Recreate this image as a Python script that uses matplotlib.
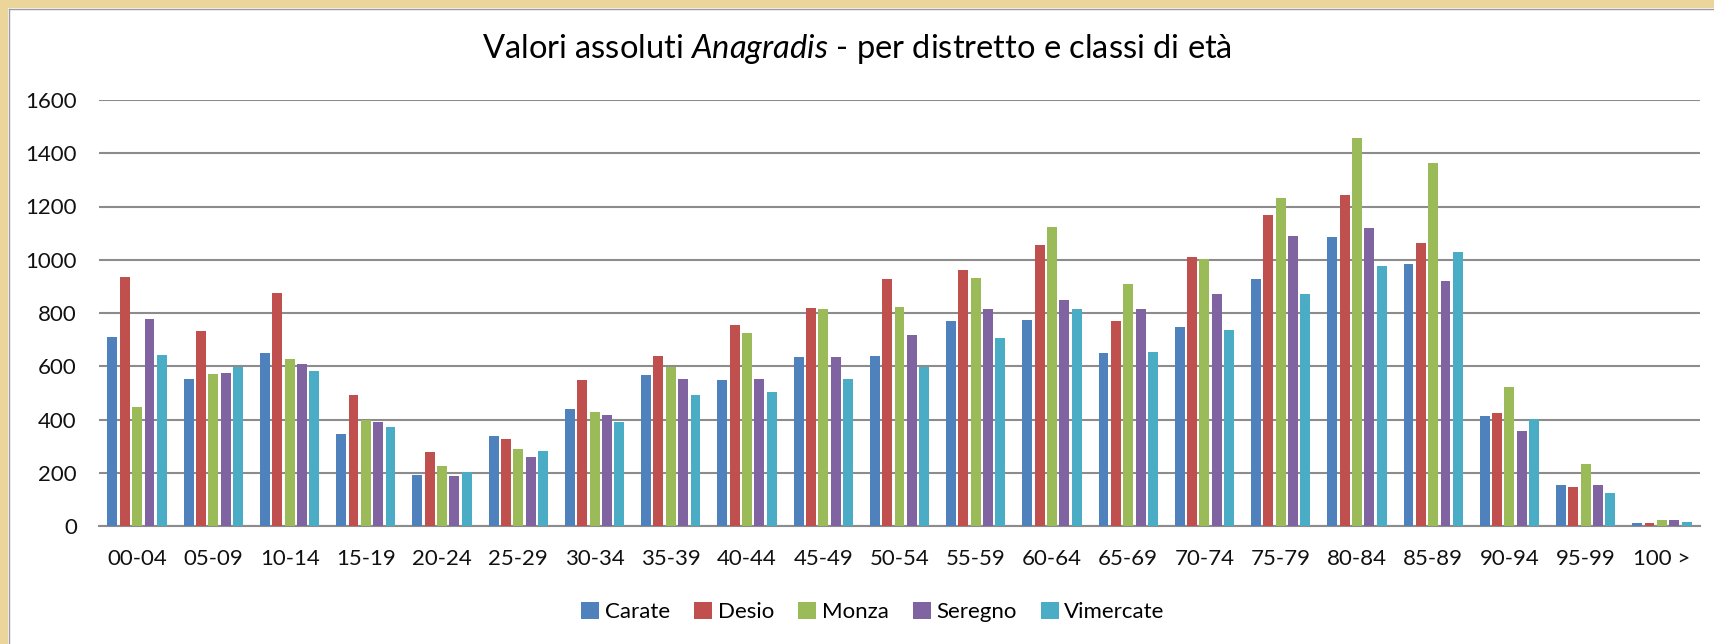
import numpy as np
import matplotlib
matplotlib.use("Agg")
import matplotlib.pyplot as plt
from matplotlib.patches import Rectangle
from matplotlib.lines import Line2D

plt.rcParams['font.family'] = ['Lato', 'DejaVu Sans']
plt.rcParams['mathtext.fontset'] = 'custom'
plt.rcParams['mathtext.rm'] = 'Lato'
plt.rcParams['mathtext.it'] = 'Lato:italic'

# classi di eta
classi = ['00-04', '05-09', '10-14', '15-19', '20-24', '25-29', '30-34',
          '35-39', '40-44', '45-49', '50-54', '55-59', '60-64', '65-69',
          '70-74', '75-79', '80-84', '85-89', '90-94', '95-99', '100 >']

carate = [711, 553, 649, 344, 193, 339, 441, 566, 548, 634, 639, 769, 774,
          649, 746, 927, 1084, 983, 412, 154, 13]
desio = [937, 734, 876, 492, 277, 328, 548, 639, 756, 819, 927, 960, 1057,
         769, 1010, 1169, 1242, 1062, 424, 148, 13]
monza = [446, 571, 626, 398, 227, 289, 429, 598, 724, 814, 824, 932, 1124,
         910, 1004, 1231, 1456, 1362, 521, 232, 23]
seregno = [779, 576, 610, 389, 187, 260, 418, 553, 553, 634, 717, 814, 848,
           814, 870, 1091, 1118, 921, 357, 154, 23]
vimercate = [642, 598, 581, 373, 202, 283, 389, 491, 503, 553, 598, 707, 814,
             655, 735, 870, 977, 1028, 401, 125, 16]

distretti = ['Carate', 'Desio', 'Monza', 'Seregno', 'Vimercate']
serie = [carate, desio, monza, seregno, vimercate]
colori = ['#4F81BD', '#C0504D', '#9BBB59', '#8064A2', '#4BACC6']

W, H = 1714, 644
fig = plt.figure(figsize=(W / 100, H / 100), dpi=100)
fig.patch.set_facecolor('white')

# cornice dorata a sinistra e in alto
oro = '#EBD59A'
fig.add_artist(Rectangle((0, 0), 8 / W, 1, transform=fig.transFigure,
                         facecolor=oro, edgecolor='none', zorder=-10))
fig.add_artist(Rectangle((0, 1 - 8 / H), 1, 8 / H, transform=fig.transFigure,
                         facecolor=oro, edgecolor='none', zorder=-10))
fig.add_artist(Line2D([8.5 / W, 8.5 / W], [0, 1 - 8.5 / H], transform=fig.transFigure,
                      color='#9a9a9a', linewidth=1.0, zorder=-9))
fig.add_artist(Line2D([8.5 / W, 1], [1 - 8.5 / H, 1 - 8.5 / H], transform=fig.transFigure,
                      color='#9a9a9a', linewidth=1.0, zorder=-9))

ax = fig.add_axes([99 / W, 1 - 526 / H, (1700 - 99) / W, (526 - 100) / H])
ax.set_zorder(1)
ax.set_facecolor('white')

x = np.arange(len(classi))
step = 0.162
width = 0.13
for i, (nome, vals, col) in enumerate(zip(distretti, serie, colori)):
    ax.bar(x + (i - 2) * step, vals, width=width, color=col, label=nome, zorder=3)

ax.set_xlim(-0.5, len(classi) - 0.5)
ax.set_ylim(0, 1600)
ax.set_yticks(range(0, 1601, 200))
ax.yaxis.grid(True, color='#8c8c8c', linewidth=1.5, zorder=0)
ax.set_axisbelow(True)
for s in ['top', 'right', 'left']:
    ax.spines[s].set_visible(False)
ax.spines['bottom'].set_color('#8c8c8c')
ax.spines['bottom'].set_linewidth(1.5)
ax.tick_params(axis='both', length=0, labelsize=16, labelcolor='#111111')
ax.tick_params(axis='y', pad=16)
ax.tick_params(axis='x', pad=16.5)
ax.set_xticks(x)
ax.set_xticklabels(classi)

fig.text(857 / W, 1 - 49 / H,
         r'Valori assoluti $\it{Anagradis}$ - per distretto e classi di età',
         ha='center', va='center', fontsize=23.5)

leg = ax.legend(loc='center', bbox_to_anchor=(873 / W, 1 - 612 / H),
                bbox_transform=fig.transFigure, ncol=5, frameon=False,
                fontsize=16, handlelength=0.8, handleheight=0.8,
                handletextpad=0.25, columnspacing=1.1)

fig.savefig('out.png', dpi=100, facecolor=fig.get_facecolor())
